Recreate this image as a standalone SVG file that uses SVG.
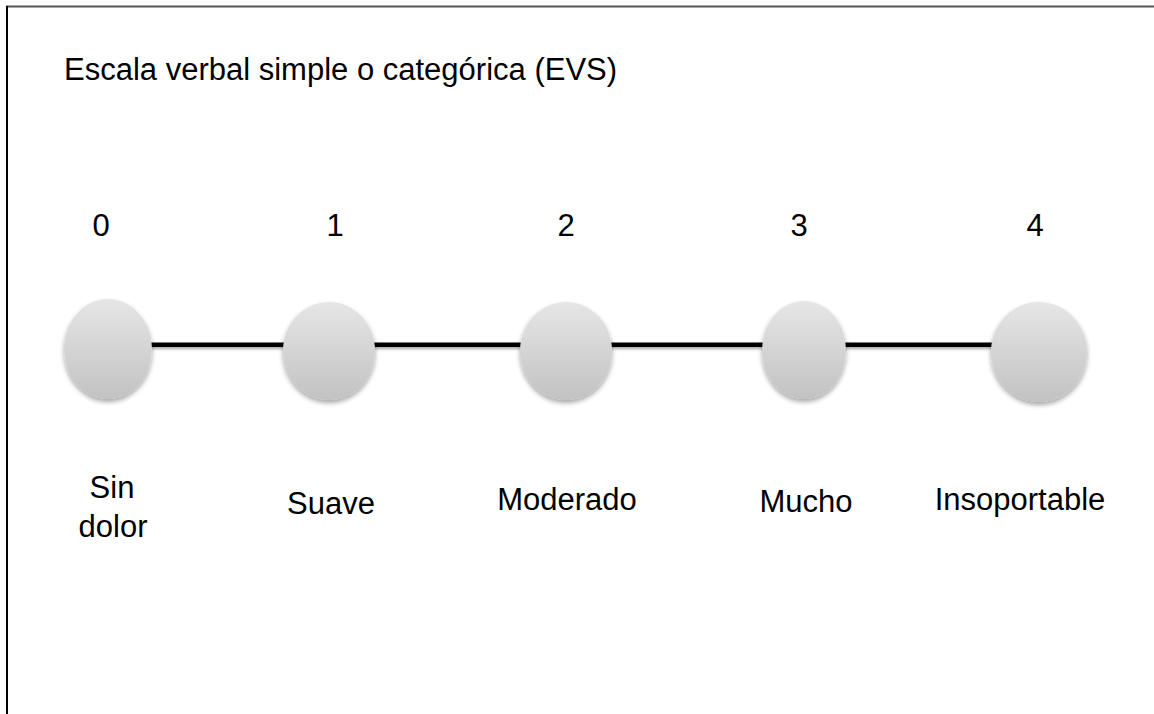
<svg xmlns="http://www.w3.org/2000/svg" width="1154" height="714" viewBox="0 0 1154 714">
<defs>
<style>
text{font-family:"Liberation Sans",Arial,sans-serif;font-size:31px;fill:#000}
.c{text-anchor:middle}
.node{fill:url(#g);filter:url(#sh)}
.conn{fill:#000;filter:url(#lsh)}
</style>
<linearGradient id="g" x1="0" y1="0" x2="0" y2="1">
<stop offset="0" stop-color="#e6e6e6"/>
<stop offset="1" stop-color="#c2c2c2"/>
</linearGradient>
<filter id="sh" x="-30%" y="-30%" width="160%" height="170%">
<feGaussianBlur in="SourceAlpha" stdDeviation="2.5"/>
<feOffset dy="3" result="b"/>
<feComponentTransfer><feFuncA type="linear" slope="0.35"/></feComponentTransfer>
<feMerge><feMergeNode/><feMergeNode in="SourceGraphic"/></feMerge>
</filter>
<filter id="lsh" filterUnits="userSpaceOnUse" x="140" y="330" width="870" height="30">
<feGaussianBlur in="SourceAlpha" stdDeviation="1.5"/>
<feOffset dy="2"/>
<feComponentTransfer><feFuncA type="linear" slope="0.35"/></feComponentTransfer>
<feMerge><feMergeNode/><feMergeNode in="SourceGraphic"/></feMerge>
</filter>
</defs>
<rect width="1154" height="714" fill="#fff"/>
<line x1="6" y1="6.5" x2="1154" y2="6.5" stroke="#555" stroke-width="2"/>
<line x1="7" y1="6" x2="7" y2="714" stroke="#000" stroke-width="2"/>
<text x="64" y="80">Escala verbal simple o categórica (EVS)</text>
<g id="connectors">
<rect class="conn" x="150" y="342.5" width="843" height="4.5"/>
</g>
<g id="n0">
<ellipse class="node" cx="108" cy="349" rx="44" ry="50"/>
<text class="c" x="101" y="236">0</text>
<text class="c" x="112" y="498">Sin</text>
<text class="c" x="113" y="537">dolor</text>
</g>
<g id="n1">
<ellipse class="node" cx="329" cy="351" rx="46" ry="49"/>
<text class="c" x="335" y="236">1</text>
<text class="c" x="331" y="514">Suave</text>
</g>
<g id="n2">
<ellipse class="node" cx="566" cy="351" rx="46" ry="49"/>
<text class="c" x="566" y="236">2</text>
<text class="c" x="567" y="510">Moderado</text>
</g>
<g id="n3">
<ellipse class="node" cx="804" cy="350" rx="42" ry="49"/>
<text class="c" x="799" y="236">3</text>
<text class="c" x="806" y="512">Mucho</text>
</g>
<g id="n4">
<ellipse class="node" cx="1039" cy="352" rx="48" ry="50"/>
<text class="c" x="1035" y="236">4</text>
<text class="c" x="1020" y="510">Insoportable</text>
</g>
</svg>
